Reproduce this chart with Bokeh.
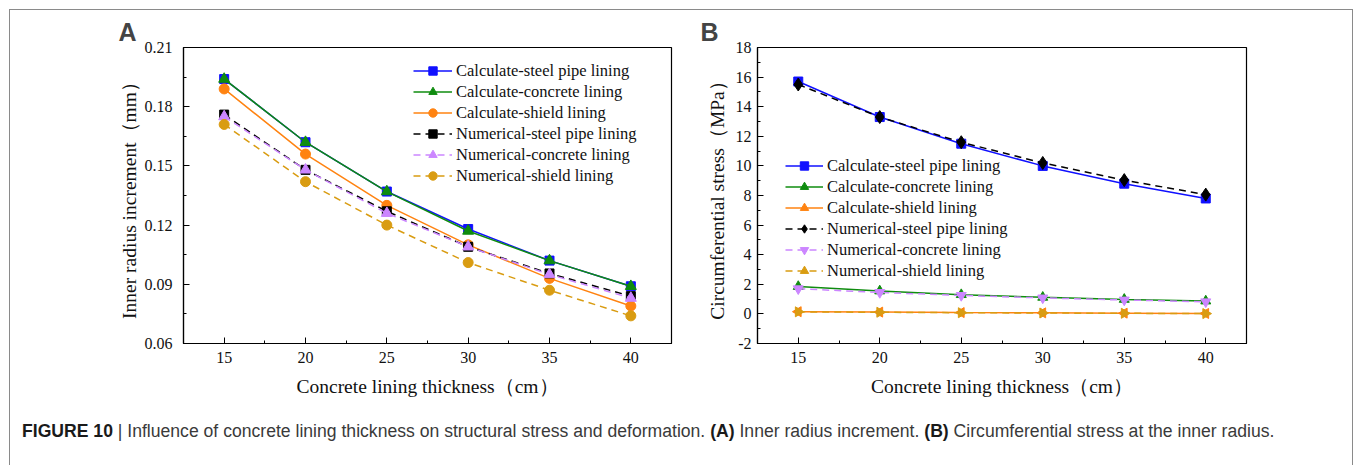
import math
from bokeh.plotting import figure
from bokeh.models import (FixedTicker, PrintfTickFormatter, Range1d, Legend, Div)
from bokeh.layouts import row, column
from bokeh.embed import file_html
from bokeh.resources import INLINE

# ---------------- data ----------------
thickness = [15, 20, 25, 30, 35, 40]

x_ticks = [15, 20, 25, 30, 35, 40]
x_minor = [12.5, 17.5, 22.5, 27.5, 32.5, 37.5, 42.5]
a_y_ticks = [0.06, 0.09, 0.12, 0.15, 0.18, 0.21]
a_y_minor = [0.075, 0.105, 0.135, 0.165, 0.195]
b_y_ticks = [-2, 0, 2, 4, 6, 8, 10, 12, 14, 16, 18]
b_y_minor = [-1, 1, 3, 5, 7, 9, 11, 13, 15, 17]

# Panel A: inner radius increment (mm)
a_calc_steel = [0.194, 0.162, 0.137, 0.118, 0.102, 0.089]
a_calc_concrete = [0.194, 0.162, 0.137, 0.117, 0.102, 0.089]
a_calc_shield = [0.189, 0.156, 0.130, 0.110, 0.093, 0.079]
a_num_steel = [0.176, 0.148, 0.127, 0.109, 0.0955, 0.084]
a_num_concrete = [0.175, 0.148, 0.126, 0.109, 0.095, 0.083]
a_num_shield = [0.171, 0.142, 0.120, 0.101, 0.087, 0.074]

# Panel B: circumferential stress (MPa)
b_calc_steel = [15.7, 13.3, 11.5, 10.0, 8.8, 7.8]
b_calc_concrete = [1.85, 1.55, 1.30, 1.12, 0.98, 0.87]
b_calc_shield = [0.15, 0.12, 0.09, 0.07, 0.05, 0.03]
b_num_steel = [15.5, 13.3, 11.6, 10.2, 9.04, 8.06]
b_num_concrete = [1.70, 1.45, 1.25, 1.08, 0.94, 0.82]
b_num_shield = [0.14, 0.11, 0.08, 0.06, 0.04, 0.02]

labels = ["Calculate-steel pipe lining", "Calculate-concrete lining",
          "Calculate-shield lining", "Numerical-steel pipe lining",
          "Numerical-concrete lining", "Numerical-shield lining"]

BLUE = "#1010ff"
GREEN = "#0f8c0f"
ORANGE = "#ff8311"
BLACK = "#000000"
VIOLET = "#cc86ff"
GOLD = "#d99c12"

SERIF = "Liberation Serif"


def style(p, yticks, yminor, fmt, tick_standoff_y):
    p.toolbar_location = None
    p.outline_line_color = "black"
    p.outline_line_width = 1.2
    p.xgrid.visible = False
    p.ygrid.visible = False
    p.background_fill_color = "white"
    p.border_fill_color = "white"
    p.xaxis.ticker = FixedTicker(ticks=x_ticks, minor_ticks=x_minor)
    p.yaxis.ticker = FixedTicker(ticks=yticks, minor_ticks=yminor)
    p.yaxis.formatter = PrintfTickFormatter(format=fmt)
    for ax in (p.xaxis[0], p.yaxis[0]):
        ax.axis_line_color = "black"
        ax.axis_line_width = 1.2
        ax.major_tick_in = 6
        ax.major_tick_out = 0
        ax.minor_tick_in = 3
        ax.minor_tick_out = 0
        ax.major_tick_line_color = "black"
        ax.minor_tick_line_color = "black"
        ax.major_label_text_font = SERIF
        ax.major_label_text_font_size = "16px"
        ax.major_label_text_color = "#111111"
        ax.axis_label_text_font = SERIF
        ax.axis_label_text_font_size = "19.5px"
        ax.axis_label_text_font_style = "normal"
        ax.axis_label_text_color = "#111111"
    p.xaxis.major_label_standoff = 8
    p.xaxis.axis_label_standoff = 10
    p.yaxis.major_label_standoff = tick_standoff_y
    p.title.text_font = "Liberation Sans"
    p.title.text_font_style = "bold"
    p.title.text_font_size = "25px"
    p.title.align = "left"
    p.title.standoff = 4


def add_series(p, y, color, marker, dashed, size, angle=0.0):
    dash = "7 5" if dashed else "solid"
    r1 = p.line(thickness, y, line_color=color, line_width=1.5, line_dash=dash)
    r2 = p.scatter(thickness, y, marker=marker, size=size, angle=angle,
                   fill_color=color, line_color=color)
    return [r1, r2]


# ---------------- Panel A ----------------
A_LEFT, A_RIGHT, A_W = 183, 671, 690
pA = figure(width=A_W, height=410, output_backend="svg", toolbar_location=None,
            x_range=Range1d(12.5, 42.5), y_range=Range1d(0.06, 0.21),
            min_border_left=A_LEFT, min_border_right=A_W - A_RIGHT,
            min_border_top=44, min_border_bottom=410 - 343,
            title="A")
style(pA, a_y_ticks, a_y_minor, "%.2f", 11)
pA.title.offset = 118 - A_LEFT
pA.xaxis.axis_label = "Concrete lining thickness（cm）"
pA.yaxis.axis_label = "Inner radius increment（mm）"
pA.yaxis.axis_label_standoff = 2

itemsA = [
    (labels[0], add_series(pA, a_calc_steel, BLUE, "square", False, 9)),
    (labels[1], add_series(pA, a_calc_concrete, GREEN, "triangle", False, 11)),
    (labels[2], add_series(pA, a_calc_shield, ORANGE, "circle", False, 10)),
    (labels[3], add_series(pA, a_num_steel, BLACK, "square", True, 9)),
    (labels[4], add_series(pA, a_num_concrete, VIOLET, "triangle", True, 11)),
    (labels[5], add_series(pA, a_num_shield, GOLD, "circle", True, 10)),
]

legA = Legend(items=itemsA, location=(413 - A_LEFT, 157), padding=0, margin=0, spacing=0,
              glyph_width=39, glyph_height=21, label_height=21, label_standoff=4,
              label_text_font=SERIF, label_text_font_size="16.5px",
              label_text_color="#111111",
              background_fill_alpha=0, border_line_alpha=0)
pA.add_layout(legA, "center")

# ---------------- Panel B ----------------
B_LEFT, B_RIGHT = 757, 1246
pB = figure(width=1355 - A_W, height=410, output_backend="svg", toolbar_location=None,
            x_range=Range1d(12.5, 42.5), y_range=Range1d(-2, 18),
            min_border_left=B_LEFT - A_W, min_border_right=1355 - B_RIGHT,
            min_border_top=47, min_border_bottom=410 - 345,
            title="B")
style(pB, b_y_ticks, b_y_minor, "%d", 6)
pB.title.offset = 700 - B_LEFT
pB.xaxis.axis_label = "Concrete lining thickness（cm）"
pB.yaxis.axis_label = "Circumferential stress（MPa）"
pB.yaxis.axis_label_standoff = 5

itemsB = [
    (labels[0], add_series(pB, b_calc_steel, BLUE, "square", False, 9)),
    (labels[1], add_series(pB, b_calc_concrete, GREEN, "triangle", False, 10)),
    (labels[2], add_series(pB, b_calc_shield, ORANGE, "triangle", False, 10, math.pi / 2)),
    (labels[3], add_series(pB, b_num_steel, BLACK, "diamond", True, 13)),
    (labels[4], add_series(pB, b_num_concrete, VIOLET, "inverted_triangle", True, 10)),
    (labels[5], add_series(pB, b_num_shield, GOLD, "triangle", True, 10, -math.pi / 2)),
]

legB = Legend(items=itemsB, location=(785 - B_LEFT, 62), padding=0, margin=0, spacing=0,
              glyph_width=38, glyph_height=21, label_height=21, label_standoff=4,
              label_text_font=SERIF, label_text_font_size="16.5px",
              label_text_color="#111111",
              background_fill_alpha=0, border_line_alpha=0)
pB.add_layout(legB, "center")

# ---------------- caption ----------------
caption_html = (
    "<div style=\"position:relative; left:17px; top:4px; white-space:nowrap; "
    "font-family:'Liberation Sans', Arial, sans-serif; font-size:17.6px; color:#3a3a3a;\">"
    "<b style='color:#1a1a1a'>FIGURE 10</b> | Influence of concrete lining thickness on structural "
    "stress and deformation. <b style='color:#1a1a1a'>(A)</b> Inner radius increment. "
    "<b style='color:#1a1a1a'>(B)</b> Circumferential stress at the inner radius.</div>"
)
caption = Div(text=caption_html, width=1355, height=55)

layout = column(row(pA, pB), caption, width=1355, height=465,
                stylesheets=[":host::after { content:''; position:absolute; left:9px; top:9px; "
                             "width:1342px; height:470px; border:1px solid #8a8a8a; "
                             "pointer-events:none; z-index:50; }"])

with open("out.html", "w") as f:
    f.write(file_html(layout, INLINE))
